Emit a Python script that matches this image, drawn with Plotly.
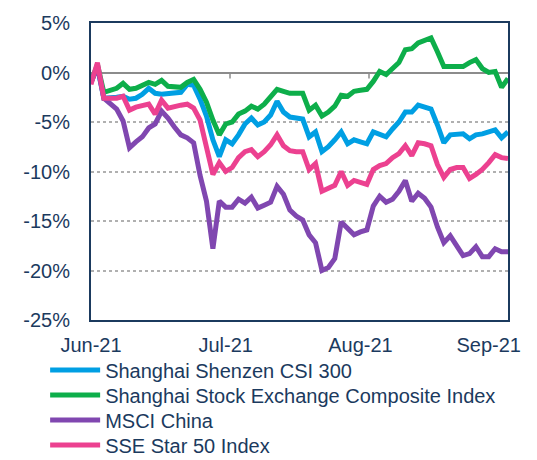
import plotly.graph_objects as go

dates = [
    "2021-06-01", "2021-06-02", "2021-06-03", "2021-06-04", "2021-06-07", "2021-06-08", "2021-06-09",
    "2021-06-10", "2021-06-11", "2021-06-15", "2021-06-16", "2021-06-17", "2021-06-18", "2021-06-21",
    "2021-06-22", "2021-06-23", "2021-06-24", "2021-06-25", "2021-06-28", "2021-06-29", "2021-06-30",
    "2021-07-01", "2021-07-02", "2021-07-05", "2021-07-06", "2021-07-07", "2021-07-08", "2021-07-09",
    "2021-07-12", "2021-07-13", "2021-07-14", "2021-07-15", "2021-07-16", "2021-07-19", "2021-07-20",
    "2021-07-21", "2021-07-22", "2021-07-23", "2021-07-26", "2021-07-27", "2021-07-28", "2021-07-29",
    "2021-07-30", "2021-08-02", "2021-08-03", "2021-08-04", "2021-08-05", "2021-08-06", "2021-08-09",
    "2021-08-10", "2021-08-11", "2021-08-12", "2021-08-13", "2021-08-16", "2021-08-17", "2021-08-18",
    "2021-08-19", "2021-08-20", "2021-08-23", "2021-08-24", "2021-08-25", "2021-08-26", "2021-08-27",
    "2021-08-30", "2021-08-31", "2021-09-01",
]

csi300 = [
    -1.0, 0.6, -2.6, -2.6, -2.5, -2.4, -2.7, -2.6, -2.2, -1.6, -2.1, -2.2, -2.1, -2.0, -2.0, -1.2,
    -1.3, -2.7, -4.4, -6.8, -8.5, -6.8, -7.2, -6.3, -5.2, -4.6, -5.3, -5.0, -4.3, -2.9, -4.0, -4.5,
    -4.6, -4.7, -6.5, -6.0, -8.0, -7.5, -6.8, -6.0, -7.2, -6.8, -7.0, -7.2, -6.0, -6.3, -6.5, -5.7,
    -5.0, -4.0, -4.0, -3.3, -3.5, -3.7, -5.3, -7.1, -6.3, -6.2, -6.2, -6.7, -6.3, -6.2, -6.0, -5.8,
    -6.6, -6.0,
]

sse_composite = [
    -1.0, 0.8, -2.0, -1.8, -1.6, -1.1, -1.7, -1.6, -1.3, -1.0, -1.2, -0.8, -1.4, -1.5, -1.5, -1.0,
    -0.7, -1.7, -3.0, -4.8, -6.3, -5.2, -5.0, -4.2, -3.9, -3.4, -3.7, -3.2, -2.5, -1.7, -1.9, -2.1,
    -2.1, -2.1, -3.8, -3.3, -4.4, -4.0, -3.4, -2.3, -2.4, -1.9, -1.8, -1.7, -0.9, 0.1, -0.2, 0.4,
    1.0, 2.3, 2.4, 3.0, 3.3, 3.5, 2.1, 0.6, 0.6, 0.6, 0.6, 1.0, 1.3, 0.4, 0.0, 0.1,
    -1.5, -0.6,
]

msci_china = [
    -1.0, 0.6, -2.6, -3.2, -3.7, -4.9, -7.6, -7.0, -6.5, -5.6, -5.2, -3.9, -4.6, -5.5, -6.3, -6.6,
    -7.1, -10.4, -13.0, -17.8, -13.0, -13.6, -13.6, -12.8, -13.2, -12.6, -13.7, -13.4, -13.1, -11.5,
    -12.3, -13.9, -14.5, -14.9, -16.4, -17.2, -20.0, -19.7, -18.8, -15.1, -15.8, -16.4, -16.1, -15.9,
    -13.5, -12.5, -13.1, -12.8, -12.0, -10.9, -13.0, -12.2, -12.7, -13.6, -15.6, -17.2, -16.5, -17.6,
    -18.5, -18.3, -17.6, -18.6, -18.6, -17.8, -18.1, -18.1,
]

sse_star50 = [
    -1.2, 1.0, -2.6, -2.6, -2.6, -2.4, -3.8, -3.5, -3.4, -3.2, -4.2, -2.8, -3.6, -3.4, -3.3, -3.2,
    -3.6, -4.8, -7.5, -10.3, -9.1, -10.0, -9.6, -8.6, -8.0, -7.8, -8.5, -8.0, -7.3, -6.3, -7.4, -7.9,
    -8.0, -8.0, -9.8, -9.2, -12.0, -11.7, -11.4, -10.0, -11.4, -10.9, -11.1, -11.3, -9.8, -9.4, -9.2,
    -8.6, -8.2, -7.4, -8.4, -7.1, -7.2, -7.4, -9.3, -10.6, -9.8, -9.6, -9.6, -10.7, -10.3, -9.8, -9.1,
    -8.3, -8.6, -8.7,
]

series_names = [
    "Shanghai Shenzen CSI 300",
    "Shanghai Stock Exchange Composite Index",
    "MSCI China",
    "SSE Star 50 Index",
]
series_values = [csi300, sse_composite, msci_china, sse_star50]
series_colors = ["#009FE3", "#0DAE4A", "#8047B0", "#EC4190"]

tick_dates = ["2021-06-01", "2021-07-01", "2021-07-30", "2021-08-27"]
tick_labels = ["Jun-21", "Jul-21", "Aug-21", "Sep-21"]
y_ticks = [5, 0, -5, -10, -15, -20, -25]
y_tick_labels = ["5%", "0%", "-5%", "-10%", "-15%", "-20%", "-25%"]

navy = "#1B3A5E"
font_family = "Liberation Sans, Arial, sans-serif"

# the page body adds an 8px offset, so the figure is sized to fit the window
FIG_W, FIG_H = 529, 452
PLOT_H = 297

legend_ids = ["legend", "legend2", "legend3", "legend4"]
legend_centers_px = [370, 395, 420, 445]  # page y of each legend row

fig = go.Figure()
for name, vals, col, lid in zip(series_names, series_values, series_colors, legend_ids):
    fig.add_trace(go.Scatter(
        x=dates, y=vals, name=name, mode="lines",
        line=dict(color=col, width=5), legend=lid,
    ))

# minor month-boundary ticks on the zero line
n = len(dates) - 1
for frac in (1 / 3, 2 / 3):
    fig.add_shape(type="line", xref="x", yref="y", x0=n * frac, x1=n * frac,
                  y0=0, y1=-0.6, line=dict(color="#8C8C8C", width=1.5), layer="below")

legend_layout = {}
for lid, cy in zip(legend_ids, legend_centers_px):
    legend_layout[lid] = dict(
        x=-0.110, y=(320 - cy) / PLOT_H, xanchor="left", yanchor="middle",
        orientation="v", font=dict(size=20, color=navy),
        itemwidth=50, bgcolor="rgba(0,0,0,0)",
    )

fig.update_layout(
    width=FIG_W, height=FIG_H,
    margin=dict(l=83, r=29, t=15, b=140, autoexpand=False),
    paper_bgcolor="white", plot_bgcolor="white",
    font=dict(family=font_family, size=20, color=navy),
    showlegend=True,
    **legend_layout,
)
fig.update_xaxes(
    type="category", range=[0, n],
    tickvals=tick_dates, ticktext=tick_labels, tickangle=0,
    showgrid=False, showline=True, mirror=True, linecolor=navy, linewidth=2,
    ticks="", ticklabelstandoff=6, tickfont=dict(size=20, color=navy),
)
fig.update_yaxes(
    range=[-25, 5], tickvals=y_ticks, ticktext=y_tick_labels,
    showgrid=True, gridcolor="#B0B0B0", griddash="dot", gridwidth=1.5,
    zeroline=True, zerolinecolor="#8C8C8C", zerolinewidth=2,
    showline=True, mirror=True, linecolor=navy, linewidth=2,
    ticks="", ticklabelstandoff=15, tickfont=dict(size=20, color=navy),
)

fig.write_html("out.html")
